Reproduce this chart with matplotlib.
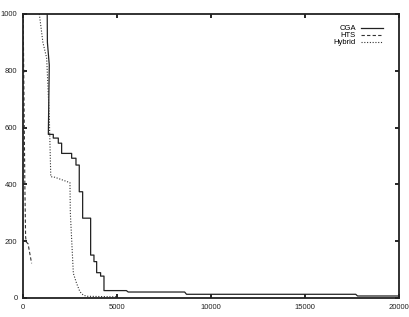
import matplotlib
matplotlib.use("Agg")
import matplotlib.pyplot as plt

plt.rcParams['font.family'] = ['Liberation Sans', 'DejaVu Sans']

# CGA (solid, step-like)
cga_x = [1290, 1300, 1400, 1350, 1613, 1613, 1880, 1880, 2057, 2057, 2590, 2590,
         2820, 2820, 2995, 2995, 3175, 3175, 3600, 3600, 3777, 3777, 3920, 3920,
         4130, 4130, 4310, 4310, 5500, 5600, 8600, 8700, 17700, 17800, 20000]
cga_y = [1000, 900, 820, 576, 576, 563, 563, 545, 545, 509, 509, 492,
         492, 468, 468, 374, 374, 281, 281, 151, 151, 128, 128, 89,
         89, 77, 77, 26, 26, 21, 21, 13, 13, 7, 7]

# HTS (dashed, close to the y axis)
hts_x = [10, 40, 70, 100, 140, 170, 280, 300, 460]
hts_y = [1000, 800, 600, 400, 216, 198, 190, 180, 122]

# Hybrid (dotted)
hyb_x = [870, 1060, 1260, 1400, 1480, 1700, 2500, 2520, 2680, 2850, 3030, 3210, 3400, 5000]
hyb_y = [1000, 900, 845, 640, 427, 425, 406, 300, 87, 52, 22, 10, 6, 4]

xticks = [0, 5000, 10000, 15000, 20000]
yticks = [0, 200, 400, 600, 800, 1000]

fig = plt.figure(figsize=(4.10, 3.17), dpi=100)
ax = fig.add_axes([0.056, 0.06, 0.917, 0.896])

ax.plot(cga_x, cga_y, color='#222222', lw=0.9, label='CGA')
ax.plot(hts_x, hts_y, color='#333333', lw=0.8, ls=(0, (3, 2)), label='HTS')
ax.plot(hyb_x, hyb_y, color='#333333', lw=0.8, ls=(0, (1, 1.5)), label='Hybrid')

ax.set_xlim(0, 20000)
ax.set_ylim(0, 1000)
ax.set_xticks(xticks)
ax.set_yticks(yticks)
ax.tick_params(direction='in', top=True, right=True, length=3, width=1.2,
               labelsize=5.5, pad=4, labelcolor='#222222')
for s in ax.spines.values():
    s.set_linewidth(1.3)
    s.set_color('#222222')

ax.legend(loc='upper right', frameon=False, markerfirst=False, fontsize=5.5,
          handlelength=2.8, handletextpad=0.7, labelspacing=-0.05,
          borderaxespad=0.5, bbox_to_anchor=(0.975, 0.985))

fig.savefig('out.png', dpi=100)
